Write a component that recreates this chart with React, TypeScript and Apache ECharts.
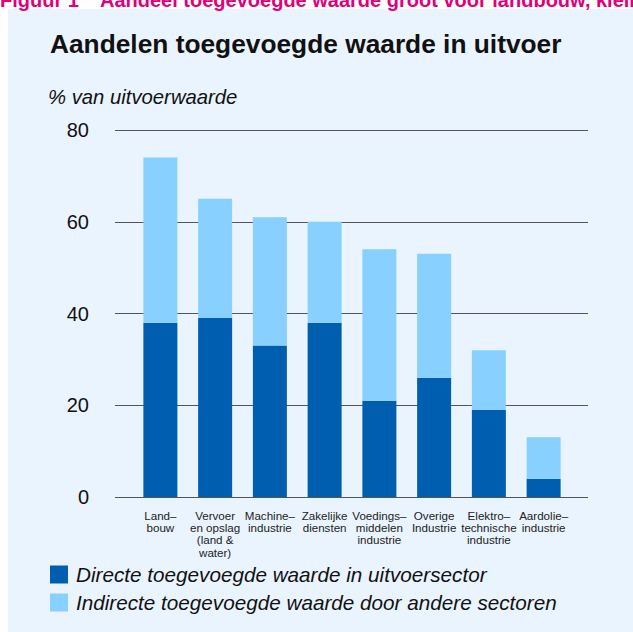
import React, { useEffect, useRef } from "react";
import * as echarts from "echarts";

const categories = [
  "Land–\nbouw",
  "Vervoer\nen opslag\n(land &\nwater)",
  "Machine–\nindustrie",
  "Zakelijke\ndiensten",
  "Voedings–\nmiddelen\nindustrie",
  "Overige\nIndustrie",
  "Elektro–\ntechnische\nindustrie",
  "Aardolie–\nindustrie",
];
const totals = [74, 65, 61, 60, 54, 53, 32, 13];
const direct = [38, 39, 33, 38, 21, 26, 19, 4];
const indirect = totals.map((t, i) => t - direct[i]);
const seriesNames = [
  "Directe toegevoegde waarde in uitvoersector",
  "Indirecte toegevoegde waarde door andere sectoren",
];
const yTicks = { min: 0, max: 80, interval: 20 };

const FONT = "'Liberation Sans', Arial, Helvetica, sans-serif";

export default function App() {
  const ref = useRef<HTMLDivElement>(null);
  useEffect(() => {
    document.body.style.margin = "0";
    const chart = echarts.init(ref.current!, null, { renderer: "svg" });
    chart.setOption({
      animation: false,
      backgroundColor: "#ffffff",
      textStyle: { fontFamily: FONT },
      graphic: [
        {
          type: "rect",
          z: -10,
          shape: { x: 8, y: 9, width: 640, height: 640 },
          style: { fill: "#eaf4fe" },
          silent: true,
        },
        {
          type: "text",
          x: 0,
          y: -10,
          style: {
            text: "Figuur 1",
            fill: "#e2007a",
            font: "bold 20px " + FONT,
          },
        },
        {
          type: "text",
          x: 100,
          y: -10,
          style: {
            text: "Aandeel toegevoegde waarde groot voor landbouw, kleine",
            fill: "#e2007a",
            font: "bold 20px " + FONT,
          },
        },
      ],
      title: [
        {
          text: "Aandelen toegevoegde waarde in uitvoer",
          left: 50,
          top: 31,
          padding: 0,
          textStyle: { fontFamily: FONT, fontSize: 26.3, fontWeight: "bold", color: "#111" },
        },
        {
          text: "% van uitvoerwaarde",
          left: 48,
          top: 87,
          padding: 0,
          textStyle: { fontFamily: FONT, fontSize: 20.3, fontStyle: "italic", fontWeight: "normal", color: "#111" },
        },
      ],
      legend: {
        orient: "vertical",
        left: 50,
        top: 564,
        padding: 0,
        itemWidth: 18,
        itemHeight: 18,
        itemGap: 7,
        icon: "rect",
        data: seriesNames,
        textStyle: { fontFamily: FONT, fontSize: 20.7, fontStyle: "italic", color: "#111", padding: [0, 0, 0, 3] },
      },
      grid: [
        { left: 115, width: 473, top: 130, height: 367 },
        { left: 133, width: 438, top: 130, height: 367 },
      ],
      xAxis: [
        { gridIndex: 0, type: "category", data: categories, show: false },
        {
          gridIndex: 1,
          type: "category",
          data: categories,
          axisLine: { show: false },
          axisTick: { show: false },
          axisLabel: { interval: 0, fontSize: 11.6, lineHeight: 12.3, margin: 12, color: "#222", fontFamily: FONT },
        },
      ],
      yAxis: [
        {
          gridIndex: 0,
          type: "value",
          min: yTicks.min,
          max: yTicks.max,
          interval: yTicks.interval,
          axisLine: { show: false },
          axisTick: { show: false },
          axisLabel: { fontSize: 20, margin: 26, color: "#111", fontFamily: FONT },
          splitLine: { lineStyle: { color: "#555", width: 1 } },
        },
        {
          gridIndex: 1,
          type: "value",
          min: yTicks.min,
          max: yTicks.max,
          interval: yTicks.interval,
          show: false,
          splitLine: { show: false },
        },
      ],
      series: [
        {
          name: seriesNames[0],
          type: "bar",
          stack: "a",
          xAxisIndex: 1,
          yAxisIndex: 1,
          barWidth: 34,
          data: direct,
          itemStyle: { color: "#005eb0" },
        },
        {
          name: seriesNames[1],
          type: "bar",
          stack: "a",
          xAxisIndex: 1,
          yAxisIndex: 1,
          barWidth: 34,
          data: indirect,
          itemStyle: { color: "#87d0ff" },
        },
      ],
    });
    return () => chart.dispose();
  }, []);
  return <div ref={ref} style={{ width: 633, height: 632 }} />;
}
